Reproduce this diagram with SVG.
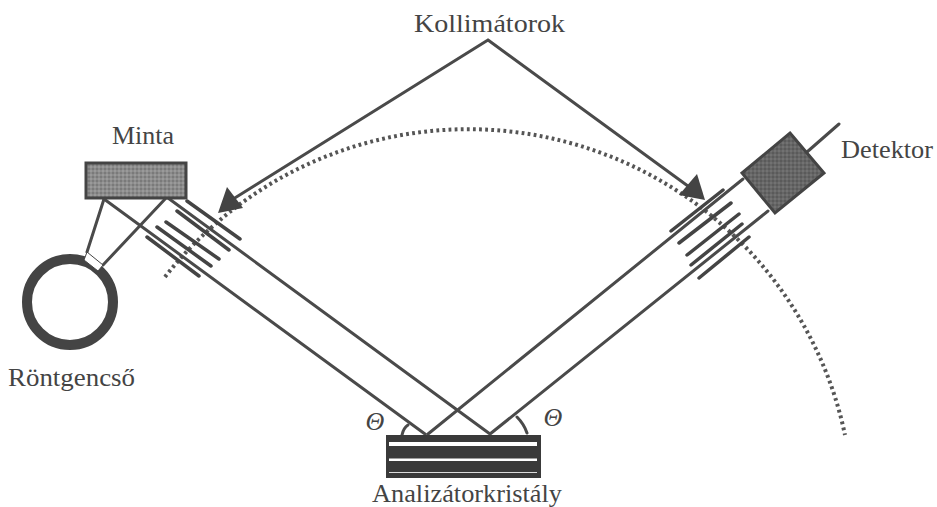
<svg xmlns="http://www.w3.org/2000/svg" width="937" height="507" viewBox="0 0 937 507">
<style>
text{font-family:"Liberation Serif","Times New Roman",serif;font-size:26px;fill:#444}
.l{fill:none;stroke:#4a4a4a;stroke-width:3;stroke-linecap:round}
.c{fill:none;stroke:#444;stroke-width:3.5;stroke-linecap:round}
.d{fill:none;stroke:#555;stroke-width:4;stroke-dasharray:2.8 3.3}
.a{fill:#444;stroke:none}
</style>
<defs>
<pattern id="mott" width="4" height="4" patternUnits="userSpaceOnUse">
<rect width="4" height="4" fill="#8c8c8c"/>
<rect width="2" height="2" fill="#7a7a7a"/>
<rect x="2" y="2" width="2" height="2" fill="#9a9a9a"/>
</pattern>
<pattern id="mott2" width="4" height="4" patternUnits="userSpaceOnUse">
<rect width="4" height="4" fill="#666"/>
<rect width="2" height="2" fill="#5a5a5a"/>
<rect x="2" y="2" width="2" height="2" fill="#727272"/>
</pattern>
</defs>
<rect width="937" height="507" fill="#fff"/>
<g id="connectors">
<path class="d" d="M165 277A385 385 0 0 1 845 435"/>
<path class="l" d="M488 40L230 201M488 40L692 189"/>
<path class="a" d="M218 213L227 187L243 208Z"/>
<path class="a" d="M705 200L697 174L679 195Z"/>
<path class="l" d="M104 199L425 434M168 198L490 434M428 434L743 179M490 434L768 211"/>
<path class="l" d="M104 199L87 252M166 198L103 265M807 152L839 124"/>
<path class="l" d="M402 435C403 430 405 427 408 425M517 417C522 422 525 427 527 433"/>
</g>
<g id="kollimator-left">
<path class="c" d="M187 201L240 239M177 211L229 250M166 222L219 259M157 227L211 266M147 237L199 276"/>
</g>
<g id="kollimator-right">
<path class="c" d="M671 231L723 190M679 243L731 203M687 255L739 214M691 265L742 224M699 278L749 237"/>
</g>
<g id="minta">
<rect x="86" y="163" width="100" height="35" fill="url(#mott)" stroke="#444" stroke-width="3"/>
<text x="112" y="144" textLength="62" lengthAdjust="spacingAndGlyphs">Minta</text>
</g>
<g id="rontgencso">
<circle cx="70" cy="302" r="43" fill="#fff" stroke="#444" stroke-width="10"/>
<path d="M87 252L103 265L98 271L84 260Z" fill="#fff" stroke="#444" stroke-width="1"/>
<text x="8" y="386" textLength="127" lengthAdjust="spacingAndGlyphs">Röntgencső</text>
</g>
<g id="detektor">
<path d="M790 133L824 173L775 213L742 173Z" fill="url(#mott2)" stroke="#444" stroke-width="3"/>
<text x="841" y="158" textLength="92" lengthAdjust="spacingAndGlyphs">Detektor</text>
</g>
<g id="kollimatorok-label">
<text x="414" y="32" textLength="151" lengthAdjust="spacingAndGlyphs">Kollimátorok</text>
</g>
<g id="analizatorkristaly">
<rect x="386" y="435" width="155" height="43" fill="#3a3a3a"/>
<rect x="389" y="442" width="148" height="4" fill="#fff"/>
<rect x="389" y="458.500" width="148" height="2.500" fill="#fff"/>
<rect x="389" y="472" width="148" height="1" fill="#ddd"/>
<text x="372" y="502" textLength="190" lengthAdjust="spacingAndGlyphs">Analizátorkristály</text>
</g>
<g id="theta">
<text x="375" y="430" text-anchor="middle" font-style="italic">Θ</text>
<text x="553" y="426" text-anchor="middle" font-style="italic">Θ</text>
</g>
</svg>
